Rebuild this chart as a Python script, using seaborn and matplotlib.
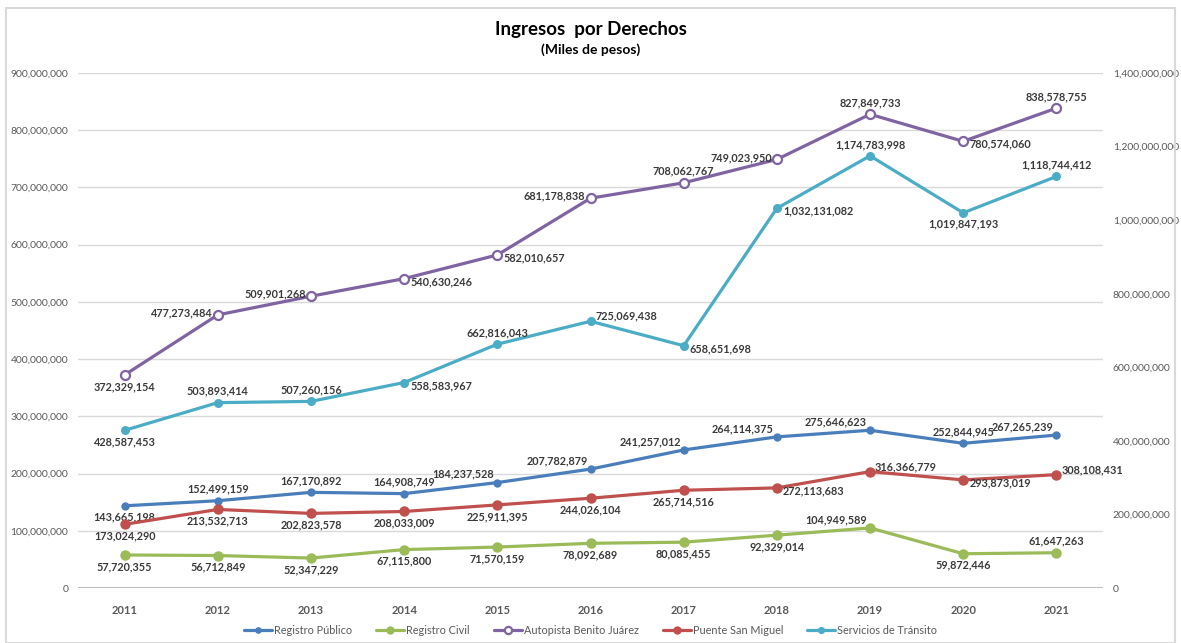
import numpy as np
import pandas as pd
import matplotlib
matplotlib.use("Agg")
import matplotlib.pyplot as plt
import seaborn as sns
from matplotlib.patches import Rectangle

years = [2011, 2012, 2013, 2014, 2015, 2016, 2017, 2018, 2019, 2020, 2021]

registro_publico = [143665198, 152499159, 167170892, 164908749, 184237528, 207782879,
                    241257012, 264114375, 275646623, 252844945, 267265239]
registro_civil = [57720355, 56712849, 52347229, 67115800, 71570159, 78092689,
                  80085455, 92329014, 104949589, 59872446, 61647263]
autopista = [372329154, 477273484, 509901268, 540630246, 582010657, 681178838,
             708062767, 749023950, 827849733, 780574060, 838578755]
# right axis series
puente = [173024290, 213532713, 202823578, 208033009, 225911395, 244026104,
          265714516, 272113683, 316366779, 293873019, 308108431]
transito = [428587453, 503893414, 507260156, 558583967, 662816043, 725069438,
            658651698, 1032131082, 1174783998, 1019847193, 1118744412]

# label placement per point (a=above, b=below, l=left, r=right, ul/ur=upper left/right)
pos_publico = ['b', 'a', 'a', 'a', 'ul', 'ul', 'ul', 'ul', 'ul', 'a', 'ul']
pos_civil = ['b', 'b', 'b', 'b', 'b', 'b', 'b', 'b', 'ul', 'b', 'a']
pos_autopista = ['b', 'l', 'l', 'r', 'r', 'l', 'a', 'l', 'a', 'r', 'a']
pos_puente = ['b', 'b', 'b', 'b', 'b', 'b', 'b', 'r', 'ur', 'r', 'ur']
pos_transito = ['b', 'a', 'a', 'r', 'a', 'ur', 'r', 'r', 'a', 'b', 'a']

C_BLUE = '#4A7EBB'
C_GREEN = '#9BBB59'
C_PURPLE = '#8064A2'
C_RED = '#C0504D'
C_CYAN = '#4BACC6'

sns.set_theme(style='white')
plt.rcParams['font.family'] = ['Lato', 'DejaVu Sans']

fig = plt.figure(figsize=(11.81, 6.43), dpi=100)
ax = fig.add_axes([78 / 1181, 1 - 588 / 643, (1103 - 78) / 1181, (588 - 73) / 643])
ax2 = ax.twinx()

OFFS = {
    'a': (0, 6, 'center', 'bottom'),
    'b': (0, -6, 'center', 'top'),
    'l': (-5, 2, 'right', 'center'),
    'r': (6, -3, 'left', 'center'),
    'ul': (-3, 3, 'right', 'bottom'),
    'ur': (5, 5, 'left', 'center'),
}


def draw(axis, vals, color, name, ms, pos, hollow=False):
    df = pd.DataFrame({'year': years, 'value': vals})
    sns.lineplot(data=df, x='year', y='value', ax=axis, color=color, linewidth=2.3,
                 marker='o', markersize=ms,
                 markerfacecolor='white' if hollow else color,
                 markeredgecolor=color, markeredgewidth=1.6 if hollow else 0,
                 label=name, legend=False)
    for x, v, p in zip(years, vals, pos):
        dx, dy, ha, va = OFFS[p]
        axis.annotate(f'{v:,}', (x, v), xytext=(dx, dy), textcoords='offset pixels',
                      ha=ha, va=va, fontsize=7.8, fontweight='bold', color='#3A3A3A')


draw(ax, registro_publico, C_BLUE, 'Registro Público', 6, pos_publico)
draw(ax, registro_civil, C_GREEN, 'Registro Civil', 7.5, pos_civil)
draw(ax, autopista, C_PURPLE, 'Autopista Benito Juárez', 6.5, pos_autopista, hollow=True)
draw(ax2, puente, C_RED, 'Puente San Miguel', 7.5, pos_puente)
draw(ax2, transito, C_CYAN, 'Servicios de Tránsito', 6.5, pos_transito)

ax.set_xlim(2010.5, 2021.5)
ax.set_ylim(0, 900000000)
ax2.set_ylim(0, 1400000000)
ax.set_yticks(np.arange(0, 900000001, 100000000))
ax2.set_yticks(np.arange(0, 1400000001, 200000000))
ax.yaxis.set_major_formatter(matplotlib.ticker.FuncFormatter(lambda v, p: f'{int(v):,}'))
ax2.yaxis.set_major_formatter(matplotlib.ticker.FuncFormatter(lambda v, p: f'{int(v):,}'))
ax.set_xticks(years)
ax.set_xticklabels([str(y) for y in years], fontweight='bold', fontsize=8, color='#595959')
ax.tick_params(axis='x', length=0, pad=12)
ax.tick_params(axis='y', length=0, labelsize=7.5, labelcolor='#595959', pad=7)
ax2.tick_params(axis='y', length=0, labelsize=7.5, labelcolor='#595959', pad=7)
ax.set_xlabel('')
ax.set_ylabel('')
ax2.set_ylabel('')
ax.grid(axis='y', color='#D9D9D9', linewidth=1)
ax.set_axisbelow(True)
for a in (ax, ax2):
    for s in a.spines.values():
        s.set_visible(False)
ax.axhline(0, color='#BFBFBF', linewidth=1.5, zorder=1)

fig.text(0.5, 1 - 30 / 643, 'Ingresos  por Derechos', ha='center', va='center',
         fontsize=13.5, fontweight='bold', color='black')
fig.text(0.5, 1 - 50 / 643, '(Miles de pesos)', ha='center', va='center',
         fontsize=10, fontweight='bold', color='black')

handles = [l for l in ax.get_lines() if not l.get_label().startswith('_')] + \
          [l for l in ax2.get_lines() if not l.get_label().startswith('_')]
leg = fig.legend(handles=handles, labels=[h.get_label() for h in handles],
                 loc='center', bbox_to_anchor=(0.5, 1 - 630 / 643), ncol=5,
                 frameon=False, fontsize=7.8, handlelength=2.6, handletextpad=0.2,
                 columnspacing=2.2, markerscale=0.8)
for t in leg.get_texts():
    t.set_color('#595959')

fig.patches.append(Rectangle((6 / 1181, 0), 1 - 12 / 1181, 1 - 8 / 643,
                             transform=fig.transFigure, fill=False,
                             edgecolor='#D9D9D9', linewidth=1.5))

fig.savefig('out.png', dpi=100)
